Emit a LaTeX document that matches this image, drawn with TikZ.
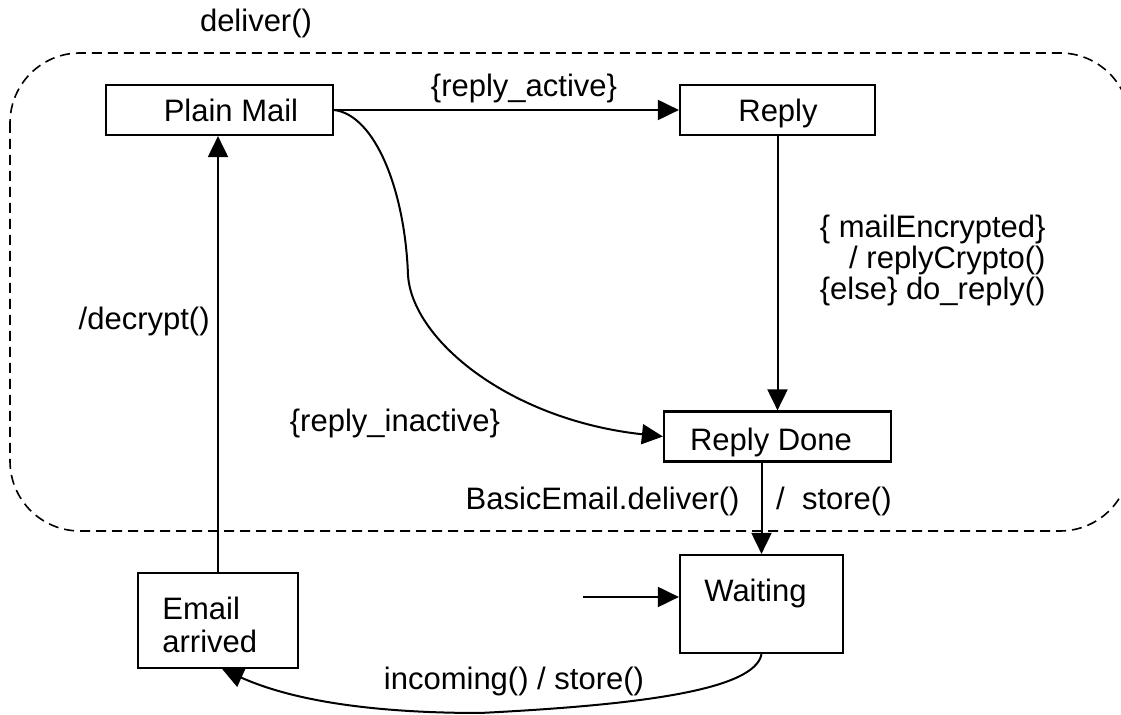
\documentclass[tikz,border=0pt]{standalone}
\usepackage{fontspec}
\setmainfont{Liberation Sans}
\usetikzlibrary{arrows.meta}
\begin{document}
\begin{tikzpicture}[x=0.5pt,y=-0.5pt,
  every node/.style={font=\fontsize{15.5pt}{16.5pt}\selectfont},
  box/.style={draw, line width=1.1pt, inner sep=0pt},
  lbl/.style={inner sep=0pt, anchor=base},
  conn/.style={line width=1pt, -{Triangle[length=10.5pt,width=10pt]}},
  region/.style={draw, dash pattern=on 5pt off 3pt, line width=0.8pt, rounded corners=35pt}]
\clip (0,0) rectangle (1121,715);
% composite state region
\draw[region] (10,53) rectangle (1130,531);
\node[lbl] (deliver) at (256,32) {deliver()};
% states
\node[box, minimum width=113.5pt, minimum height=25pt] (pm) at (219.5,110) {};
\node[box, minimum width=97.5pt, minimum height=25pt] (rp) at (777.5,110) {};
\node[box, minimum width=113.5pt, minimum height=25pt] (rd) at (777.5,436.5) {};
\node[box, minimum width=81.5pt, minimum height=49pt] (wt) at (761.5,604) {};
\node[box, minimum width=80pt, minimum height=47.5pt] (ea) at (218,620.5) {};
% state texts
\node[lbl] (pmt) at (231,122) {Plain Mail};
\node[lbl] (rpt) at (778,122) {Reply};
\node[lbl] (rdt) at (771,451) {Reply Done};
\node[lbl] (wtt) at (755.5,602) {Waiting};
\node[lbl, anchor=base west] (eat1) at (162,620) {Email};
\node[lbl, anchor=base west] (eat2) at (162,653) {arrived};
% transitions
\draw[conn] (pm) -- (rp);
\node[lbl] (ra) at (524,97) {\{reply\_active\}};
\draw[conn] (pm.east) .. controls (375,115) and (405,190) .. (408,275)
            .. controls (412,340) and (510,420) .. (rd.west);
\node[lbl] (ri) at (395,432) {\{reply\_inactive\}};
\draw[conn] (rp) -- (rd);
\node[lbl, anchor=base east] (c1) at (1046,238) {\{ mailEncrypted\}};
\node[lbl, anchor=base east] (c2) at (1046,269) {/ replyCrypto()};
\node[lbl, anchor=base east] (c3) at (1046,300) {\{else\} do\_reply()};
\draw[conn] (rd.south -| wt.north) -- (wt.north);
\node[lbl, anchor=base east] (bd) at (740,510) {BasicEmail.deliver()};
\node[lbl, anchor=base east] (bs) at (892,510) {/\ \ store()};
\draw[conn] (ea.north) -- (ea.north |- pm.south);
\node[lbl, anchor=base east] (dc) at (210,330) {/decrypt()};
\coordinate (init) at (583,597);
\draw[conn] (init) -- (init -| wt.west);
\draw[conn] (wt.south) .. controls (755,690) and (640,705) .. (480,713)
            .. controls (350,713) and (280,695) .. (ea.-85);
\node[lbl] (inc) at (514,690) {incoming() / store()};
\end{tikzpicture}
\end{document}
